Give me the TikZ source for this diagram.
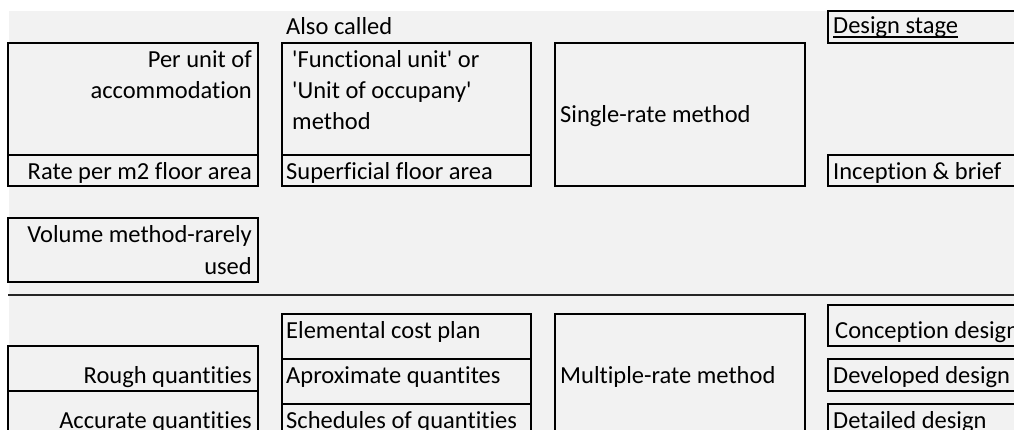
\documentclass[tikz,border=0pt]{standalone}
\usepackage{fontspec}
\setmainfont{Carlito}[Ligatures={NoCommon}]
\definecolor{bg}{RGB}{242,242,242}
\begin{document}
\begin{tikzpicture}[x=1pt,y=-1pt,
  box/.style={draw=black,line width=2pt},
  sep/.style={draw=black!85,line width=2pt},
  txt/.style={inner sep=0pt,font=\fontsize{24.5}{30}\selectfont}]
\useasboundingbox (0,0) rectangle (1014,430);
\clip (0,0) rectangle (1014,430);
\fill[white] (0,0) rectangle (1014,430);
\fill[bg] (9,11) rectangle (1014,430);

% ---------- upper half ----------
\draw[box] (8,43) rectangle (258,186);
\draw[box] (8,155) -- (258,155);
\draw[box] (282,43) rectangle (531,186);
\draw[box] (282,155) -- (531,155);
\draw[box] (555,43) rectangle (805,186);
\draw[box] (828,11) rectangle (1030,43);
\draw[box] (828,155) rectangle (1030,186);
\draw[box] (8,218) rectangle (258,282);

\node[txt,anchor=base east] (perunit) at (252,68) {Per unit of};
\node[txt,anchor=base east] (accom) at (252,99) {accommodation};
\node[txt,anchor=base east] (rate) at (252,180) {Rate per m2 floor area};
\node[txt,anchor=base west] (also) at (286,35) {Also called};
\node[txt,anchor=base west] (func) at (292,68) {\textquotesingle Functional unit\textquotesingle{} or};
\node[txt,anchor=base west] (unit) at (292,99) {\textquotesingle Unit of occupany\textquotesingle};
\node[txt,anchor=base west] (meth) at (292,130) {method};
\node[txt,anchor=base west] (superf) at (286,180) {Superficial floor area};
\node[txt,anchor=base west] (single) at (560,123) {Single-rate method};
\node[txt,anchor=base west] (design) at (833,34) {Design stage};
\draw[line width=1.3pt] ([yshift=-3pt]design.base west) -- ([yshift=-3pt]design.base east);
\node[txt,anchor=base west] (incep) at (833,180) {Inception \& brief};
\node[txt,anchor=base east] (volume) at (252,243) {Volume method-rarely};
\node[txt,anchor=base east] (used) at (252,274) {used};

% ---------- separator ----------
\coordinate (sepL) at (8,295);
\coordinate (sepR) at (1014,295);
\draw[sep] (sepL) -- (sepR);

% ---------- lower half ----------
\draw[box] (8,460) -- (8,346) -- (258,346) -- (258,460);
\draw[box] (8,391) -- (258,391);
\draw[box] (282,460) -- (282,314) -- (531,314) -- (531,460);
\draw[box] (282,359) -- (531,359);
\draw[box] (282,404) -- (531,404);
\draw[box] (555,460) -- (555,314) -- (805,314) -- (805,460);
\draw[box] (828,305) rectangle (1030,346);
\draw[box] (828,359) rectangle (1030,391);
\draw[box] (828,460) -- (828,404) -- (1030,404);

\node[txt,anchor=base east] (rough) at (252,383) {Rough quantities};
\node[txt,anchor=base east] (accur) at (252,428) {Accurate quantities};
\node[txt,anchor=base west] (elem) at (286,338) {Elemental cost plan};
\node[txt,anchor=base west] (aprox) at (286,383) {Aproximate quantites};
\node[txt,anchor=base west] (sched) at (286,428) {Schedules of quantities};
\node[txt,anchor=base west] (multi) at (560,383) {Multiple-rate method};
\node[txt,anchor=base west] (concep) at (835,338) {Conception design};
\node[txt,anchor=base west] (devel) at (833,383) {Developed design};
\node[txt,anchor=base west] (detail) at (833,428) {Detailed design};
\end{tikzpicture}
\end{document}
